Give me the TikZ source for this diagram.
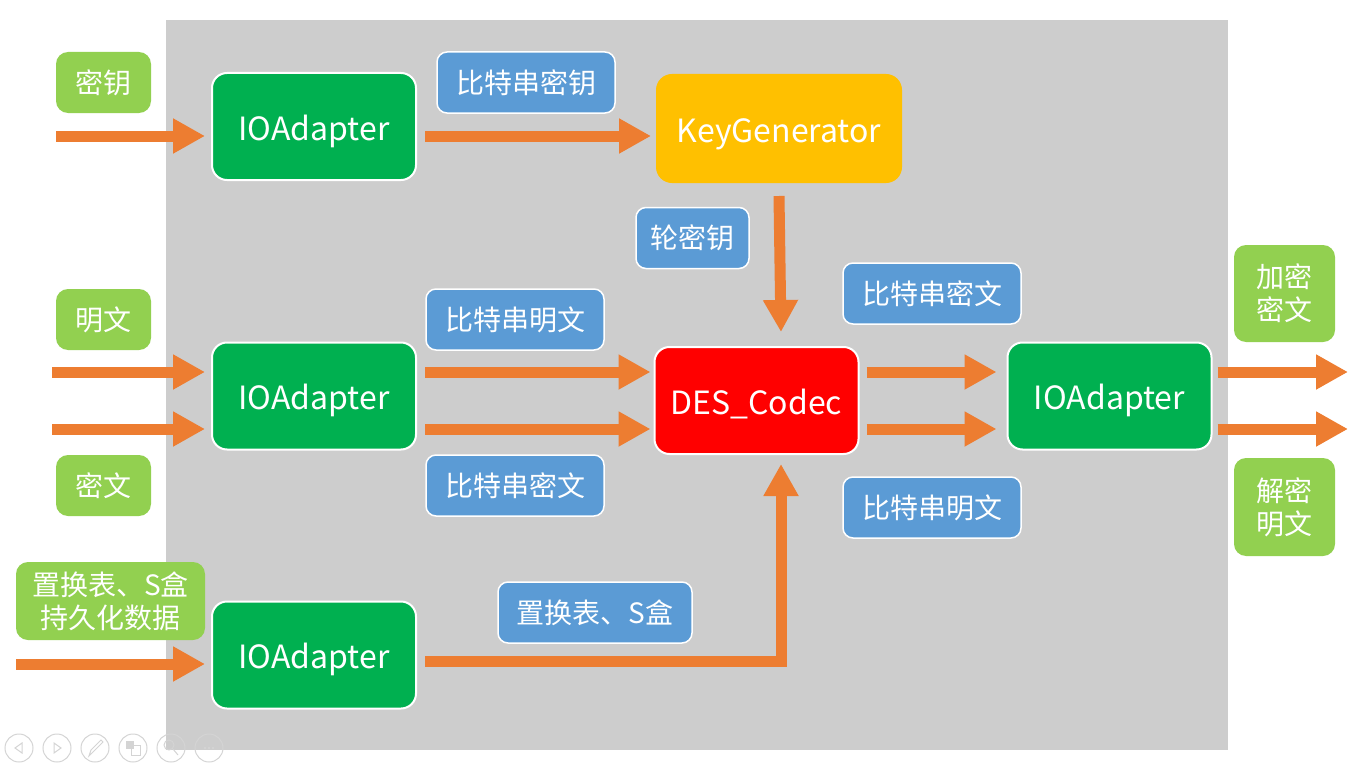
\documentclass[tikz,border=0pt]{standalone}
\usepackage{fontspec}
\setmainfont{Noto Sans CJK SC}
\usetikzlibrary{arrows.meta,calc}
\definecolor{bggray}{HTML}{CDCDCD}
\definecolor{lgreen}{HTML}{92D050}
\definecolor{dgreen}{HTML}{00B050}
\definecolor{lblue}{HTML}{5B9BD5}
\definecolor{kgold}{HTML}{FFC000}
\definecolor{arrorange}{HTML}{ED7D31}
\definecolor{icongray}{HTML}{D4D4D4}
\tikzset{
  bigbox/.style={draw=white, line width=2pt, rounded corners=15pt, minimum width=204pt, minimum height=107pt, text=white, font=\fontsize{32}{38}\selectfont, inner sep=0pt, text height=27pt, text depth=0pt},
  iobox/.style={bigbox, fill=dgreen},
  lblbox/.style={draw=white, line width=1.5pt, fill=lblue, rounded corners=10pt, minimum height=61pt, text=white, font=\fontsize{28}{33}\selectfont, inner sep=0pt},
  extbox/.style={fill=lgreen, rounded corners=12pt, text=white, font=\fontsize{28}{33}\selectfont, inner sep=0pt, align=center},
  flow/.style={draw=arrorange, line width=11pt, -{Triangle[length=32pt,width=33pt]}},
  iconc/.style={draw=icongray, line width=1pt}
}
\begin{document}
\begin{tikzpicture}[x=1pt,y=-1pt]
\useasboundingbox (0,0) rectangle (1361,768);
\fill[bggray] (166,20) rectangle (1228,750);

% external labels
\node[extbox, minimum width=95pt, minimum height=61pt] (miyao) at (103.5,82.5) {密钥};
\node[extbox, minimum width=95pt, minimum height=61pt] (mingwen) at (103.5,319.5) {明文};
\node[extbox, minimum width=95pt, minimum height=61pt] (miwen) at (103.5,485.5) {密文};
\node[extbox, minimum width=189pt, minimum height=78pt] (sbox) at (110.5,601) {置换表、S盒\\持久化数据};
\node[extbox, minimum width=101pt, minimum height=97pt] (enc) at (1284.5,293.5) {加密\\密文};
\node[extbox, minimum width=101pt, minimum height=98pt] (dec) at (1284.5,507) {解密\\明文};

% main boxes
\node[iobox] (io1) at (314,126.5) {IOAdapter};
\node[iobox] (io2) at (314,396) {IOAdapter};
\node[iobox] (io3) at (1109.5,396) {IOAdapter};
\node[iobox] (io4) at (314,655) {IOAdapter};
\node[bigbox, fill=kgold, draw=kgold, minimum width=244pt] (kg) at (779,128.5) {KeyGenerator};
\node[bigbox, fill=red] (des) at (756.5,400.5) {DES\_Codec};

% blue labels
\node[lblbox, minimum width=178pt] (l1) at (526,82.5) {比特串密钥};
\node[lblbox, minimum width=113pt] (l2) at (692.5,238) {轮密钥};
\node[lblbox, minimum width=178pt] (l3) at (515,319.5) {比特串明文};
\node[lblbox, minimum width=178pt] (l4) at (515,485.5) {比特串密文};
\node[lblbox, minimum width=178pt] (l5) at (932,293.5) {比特串密文};
\node[lblbox, minimum width=178pt] (l6) at (932,507.5) {比特串明文};
\node[lblbox, minimum width=194pt] (l7) at (595,612.5) {置换表、S盒};

% free ends
\coordinate (in1) at (56,136);
\coordinate (in2) at (52,372);
\coordinate (in3) at (52,429);
\coordinate (in4) at (16,664);
\coordinate (out1) at (1348,372);
\coordinate (out2) at (1348,429);
\coordinate (corner) at (781,661.5);

% arrows
\draw[flow] (in1) -- ($(io1.west |- in1)+(-6,0)$);
\draw[flow] ($(io1.east |- in1)+(8,0)$) -- ($(kg.west |- in1)+(-5,0)$);
\draw[flow] ($(kg.south)+(0,13)$) -- ($(des.north)+(24.5,-14)$);
\draw[flow] (in2) -- ($(io2.west |- in2)+(-6,0)$);
\draw[flow] (in3) -- ($(io2.west |- in3)+(-6,0)$);
\draw[flow] ($(io2.east |- in2)+(8,0)$) -- ($(des.west |- in2)+(-3,0)$);
\draw[flow] ($(io2.east |- in3)+(8,0)$) -- ($(des.west |- in3)+(-3,0)$);
\draw[flow] ($(des.east |- in2)+(7,0)$) -- ($(io3.west |- in2)+(-10,0)$);
\draw[flow] ($(des.east |- in3)+(7,0)$) -- ($(io3.west |- in3)+(-10,0)$);
\draw[flow] ($(io3.east |- out1)+(5,0)$) -- (out1);
\draw[flow] ($(io3.east |- out2)+(5,0)$) -- (out2);
\draw[flow] (in4) -- ($(io4.west |- in4)+(-6,0)$);
\draw[flow] ($(io4.east)+(8,6.5)$) -- (corner) -- ($(des.south)+(24.5,9)$);

% slide controls
\foreach \i in {0,...,5} {
  \draw[iconc] (19+38*\i,748) circle (14);
}
\draw[iconc] (22,743) -- (15,748) -- (22,753) -- cycle;
\draw[iconc] (54,743) -- (61,748) -- (54,753) -- cycle;
\draw[iconc] (89,756) -- (91,750) -- (101,740) -- (103,742) -- (93,752) -- cycle;
\draw[iconc, fill=icongray] (126,741) rectangle (133,748);
\draw[iconc] (131,745) rectangle (140,755);
\draw[iconc] (169,745) circle (5);
\draw[iconc] (173,749) -- (178,755);
\foreach \k in {-4,0,4} \fill[icongray] (209+\k,748) circle (1.3);
\end{tikzpicture}
\end{document}
